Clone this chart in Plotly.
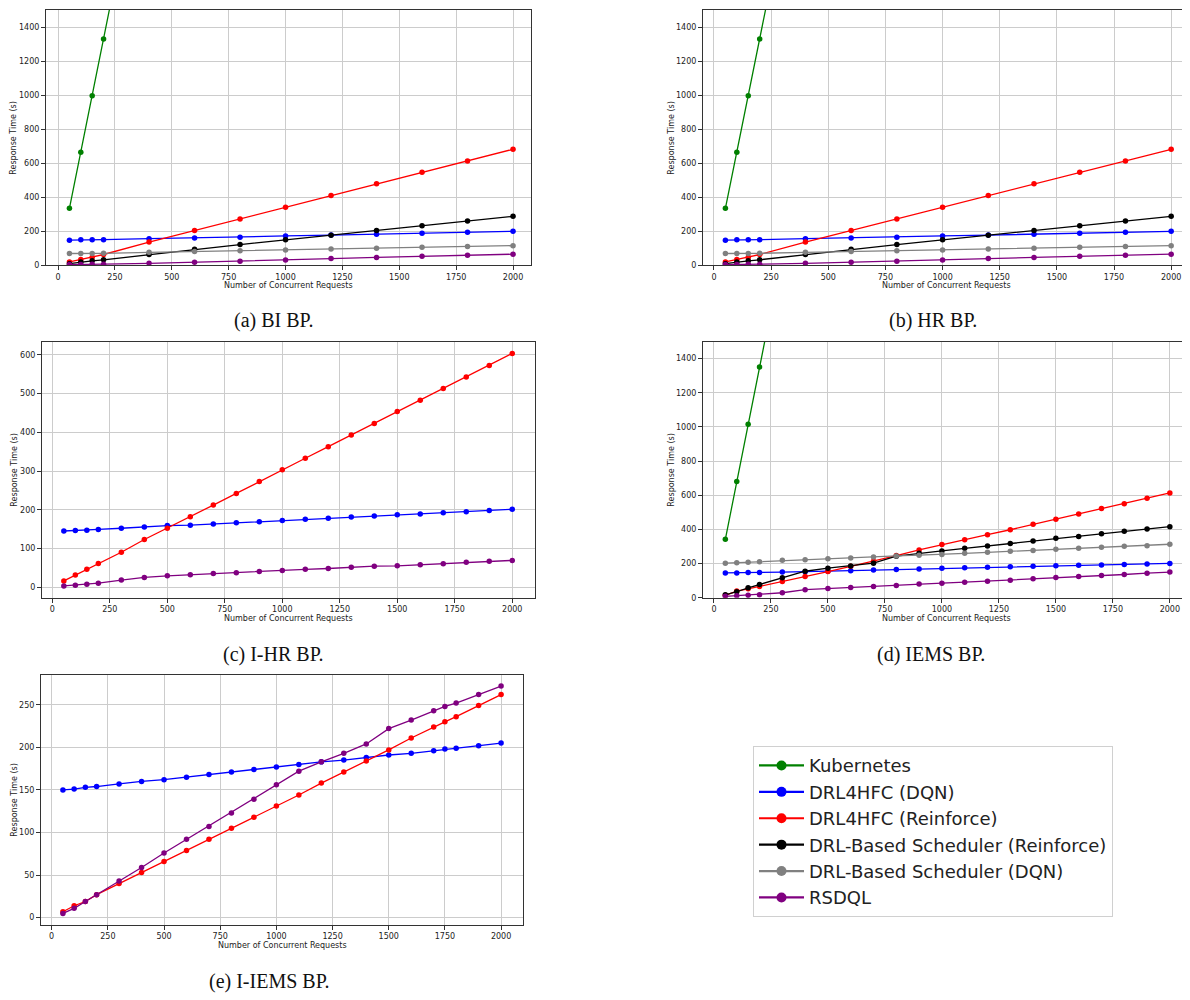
import plotly.graph_objects as go

# page body adds an 8px margin; compensate so the figure lands at the reference pixels
OFF = 8
W, H = 1190 - OFF, 1000 - OFF

# ---------------- data ----------------
series_names = ["Kubernetes", "DRL4HFC (DQN)", "DRL4HFC (Reinforce)",
                "DRL-Based Scheduler (Reinforce)", "DRL-Based Scheduler (DQN)", "RSDQL"]
series_colors = ["#008000", "#0000ff", "#ff0000", "#000000", "#808080", "#800080"]

# (a) BI BP and (b) HR BP
x_bi = [50, 100, 150, 200, 400, 600, 800, 1000, 1200, 1400, 1600, 1800, 2000]
bi_kubernetes = [335, 665, 997, 1330, 2660, 3990, 5320, 6650, 7980, 9310, 10640, 11970, 13300]
bi_drl4hfc_dqn = [148, 150, 150, 151, 157, 161, 166, 173, 178, 183, 189, 195, 200]
bi_drl4hfc_reinforce = [20, 34, 48, 64, 137, 205, 273, 342, 411, 479, 547, 613, 682]
bi_drlsched_reinforce = [10, 20, 27, 33, 64, 95, 122, 150, 177, 205, 233, 261, 288]
bi_drlsched_dqn = [70, 70, 70, 71, 77, 82, 86, 91, 96, 101, 106, 111, 116]
bi_rsdql = [5, 5, 6, 7, 12, 18, 24, 31, 40, 47, 54, 60, 66]

x_hr = [50, 100, 150, 200, 400, 600, 800, 1000, 1200, 1400, 1600, 1800, 2000]
hr_kubernetes = [335, 665, 997, 1330, 2660, 3990, 5320, 6650, 7980, 9310, 10640, 11970, 13300]
hr_drl4hfc_dqn = [148, 150, 150, 151, 157, 161, 166, 173, 178, 183, 189, 195, 200]
hr_drl4hfc_reinforce = [20, 34, 48, 64, 137, 205, 273, 342, 411, 479, 547, 613, 682]
hr_drlsched_reinforce = [10, 20, 27, 33, 64, 95, 122, 150, 177, 205, 233, 261, 288]
hr_drlsched_dqn = [70, 70, 70, 71, 77, 82, 86, 91, 96, 101, 106, 111, 116]
hr_rsdql = [5, 5, 6, 7, 12, 18, 24, 31, 40, 47, 54, 60, 66]

# (c) I-HR BP
x_ihr = [50, 100, 150, 200, 300, 400, 500, 600, 700, 800, 900, 1000,
         1100, 1200, 1300, 1400, 1500, 1600, 1700, 1800, 1900, 2000]
ihr_drl4hfc_dqn = [145, 146, 147, 149, 152, 155, 159, 160, 163, 166, 169, 172,
                   175, 178, 181, 184, 187, 189, 192, 195, 198, 201]
ihr_drl4hfc_reinforce = [16, 31, 46, 61, 90, 123, 152, 182, 212, 242, 273, 303,
                         333, 363, 393, 423, 454, 483, 513, 543, 573, 604]
ihr_rsdql = [3, 5, 7, 10, 18, 25, 29, 32, 35, 37, 40, 43,
             46, 48, 51, 54, 55, 58, 60, 64, 67, 69]

# (d) IEMS BP
x_iems = [50, 100, 150, 200, 300, 400, 500, 600, 700, 800, 900, 1000,
          1100, 1200, 1300, 1400, 1500, 1600, 1700, 1800, 1900, 2000]
iems_kubernetes = [342, 680, 1016, 1351, 2020, 2690, 3360, 4030, 4700, 5370, 6040, 6710,
                   7380, 8050, 8720, 9390, 10060, 10730, 11400, 12070, 12740, 13410]
iems_drl4hfc_dqn = [145, 145, 147, 148, 150, 152, 155, 158, 162, 165, 168, 173,
                    176, 179, 181, 184, 187, 190, 192, 194, 198, 201]
iems_drl4hfc_reinforce = [14, 39, 52, 66, 95, 124, 153, 184, 214, 247, 280, 311,
                          340, 369, 398, 431, 460, 491, 522, 551, 583, 614]
iems_drlsched_reinforce = [17, 35, 58, 78, 117, 155, 173, 186, 202, 243, 260, 274,
                           289, 303, 318, 332, 348, 359, 375, 390, 402, 416]
iems_drlsched_dqn = [202, 205, 207, 211, 219, 222, 228, 233, 239, 245, 249, 253,
                     260, 266, 272, 276, 284, 289, 295, 301, 304, 313]
iems_rsdql = [8, 12, 14, 17, 29, 47, 54, 60, 66, 72, 80, 85,
              91, 97, 103, 111, 118, 124, 130, 136, 144, 150]

# (e) I-IEMS BP
x_iiems = [50, 100, 150, 200, 300, 400, 500, 600, 700, 800, 900, 1000,
           1100, 1200, 1300, 1400, 1500, 1600, 1700, 1750, 1800, 1900, 2000]
iiems_drl4hfc_dqn = [150, 151, 153, 154, 157, 160, 162, 165, 168, 171, 174, 177,
                     180, 183, 185, 188, 191, 193, 196, 198, 199, 202, 205]
iiems_drl4hfc_reinforce = [7, 14, 19, 27, 40, 53, 66, 79, 92, 105, 118, 131,
                           144, 158, 171, 184, 197, 211, 224, 230, 236, 249, 262]
iiems_rsdql = [5, 11, 19, 27, 43, 59, 76, 92, 107, 123, 139, 156,
               172, 183, 193, 204, 222, 232, 243, 248, 252, 262, 272]

x_ticks = [0, 250, 500, 750, 1000, 1250, 1500, 1750, 2000]
y_ticks_main = [0, 200, 400, 600, 800, 1000, 1200, 1400]
y_ticks_ihr = [0, 100, 200, 300, 400, 500, 600]
y_ticks_iiems = [0, 50, 100, 150, 200, 250]

captions = ["(a) BI BP.", "(b) HR BP.", "(c) I-HR BP.", "(d) IEMS BP.", "(e) I-IEMS BP."]
x_title = "Number of Concurrent Requests"
y_title = "Response Time (s)"

# ---------------- layout helpers ----------------
def px(v):
    return (v - OFF) / W

def py(v):
    return 1 - (v - OFF) / H

# panel boxes in reference pixels: left, right, top, bottom; x range, y range
panels = [
    dict(l=46, r=531, t=10, b=266.7, xr=[-53, 2079], yr=[0, 1500], yt=y_ticks_main, ytx=14),
    dict(l=703, r=1189, t=10, b=266.7, xr=[-48, 2078], yr=[0, 1500], yt=y_ticks_main, ytx=672),
    dict(l=42, r=535, t=343.3, b=600.7, xr=[-45, 2099], yr=[-27.5, 634.5], yt=y_ticks_ihr, ytx=15),
    dict(l=703, r=1189, t=343.3, b=600.7, xr=[-48, 2084], yr=[0, 1500], yt=y_ticks_main, ytx=672),
    dict(l=41, r=523, t=678, b=929.3, xr=[-47.5, 2097.5], yr=[-8.2, 285.4], yt=y_ticks_iiems, ytx=15),
]

panel_data = [
    (x_bi, [bi_kubernetes, bi_drl4hfc_dqn, bi_drl4hfc_reinforce,
            bi_drlsched_reinforce, bi_drlsched_dqn, bi_rsdql]),
    (x_hr, [hr_kubernetes, hr_drl4hfc_dqn, hr_drl4hfc_reinforce,
            hr_drlsched_reinforce, hr_drlsched_dqn, hr_rsdql]),
    (x_ihr, [None, ihr_drl4hfc_dqn, ihr_drl4hfc_reinforce, None, None, ihr_rsdql]),
    (x_iems, [iems_kubernetes, iems_drl4hfc_dqn, iems_drl4hfc_reinforce,
              iems_drlsched_reinforce, iems_drlsched_dqn, iems_rsdql]),
    (x_iiems, [None, iiems_drl4hfc_dqn, iiems_drl4hfc_reinforce, None, None, iiems_rsdql]),
]

fig = go.Figure()
tick_font = dict(family="DejaVu Sans", size=8, color="#222")
grid_col = "#cccccc"
layout = {}
annotations = []

for i, (p, (xs, ys_list)) in enumerate(zip(panels, panel_data)):
    n = "" if i == 0 else str(i + 1)
    xa, ya = "x" + n, "y" + n
    for name, col, ys in zip(series_names, series_colors, ys_list):
        if ys is None:
            continue
        fig.add_trace(go.Scatter(
            x=xs, y=ys, mode="lines+markers", name=name, showlegend=False,
            line=dict(color=col, width=1.3), marker=dict(color=col, size=5.5),
            xaxis=xa, yaxis=ya, cliponaxis=True))
    common = dict(showgrid=True, gridcolor=grid_col, gridwidth=1, zeroline=False,
                  showline=True, mirror=True, linecolor="#333", linewidth=1,
                  ticks="outside", ticklen=4, tickwidth=1, tickcolor="#333",
                  tickfont=tick_font)
    layout["xaxis" + n] = dict(domain=[px(p["l"]), px(p["r"])], range=p["xr"],
                               tickvals=x_ticks, anchor=ya, **common)
    layout["yaxis" + n] = dict(domain=[py(p["b"]), py(p["t"])], range=p["yr"],
                               tickvals=p["yt"], anchor=xa, **common)
    annotations.append(dict(text=x_title, x=px((p["l"] + p["r"]) / 2), y=py(p["b"] + 20.5),
                            xref="paper", yref="paper", showarrow=False,
                            xanchor="center", yanchor="middle",
                            font=dict(family="DejaVu Sans", size=8, color="#222")))
    annotations.append(dict(text=y_title, x=px(p["ytx"]), y=py((p["t"] + p["b"]) / 2),
                            xref="paper", yref="paper", showarrow=False, textangle=-90,
                            xanchor="center", yanchor="middle",
                            font=dict(family="DejaVu Sans", size=8, color="#222")))

# captions
cap_pos = [(273, 322), (933, 322), (273, 658), (931, 658), (269, 986)]
for txt, (cx, cy) in zip(captions, cap_pos):
    annotations.append(dict(text=txt, x=px(cx), y=py(cy), xref="paper", yref="paper",
                            showarrow=False, xanchor="center", yanchor="middle",
                            font=dict(family="Liberation Serif", size=20, color="#111")))

# legend-only traces
for name, col in zip(series_names, series_colors):
    fig.add_trace(go.Scatter(x=[None], y=[None], mode="lines+markers", name=name,
                             line=dict(color=col, width=2.2),
                             marker=dict(color=col, size=10), showlegend=True))

fig.update_layout(
    width=W, height=H, autosize=False,
    margin=dict(l=0, r=0, t=0, b=0),
    paper_bgcolor="white", plot_bgcolor="white",
    annotations=annotations,
    legend=dict(x=px(753), y=py(750), xanchor="left", yanchor="top",
                bgcolor="white", bordercolor="#d0d0d0", borderwidth=1,
                font=dict(family="DejaVu Sans", size=18, color="#222"),
                itemwidth=45, tracegroupgap=0),
    **layout,
)

fig.write_html("out.html")
